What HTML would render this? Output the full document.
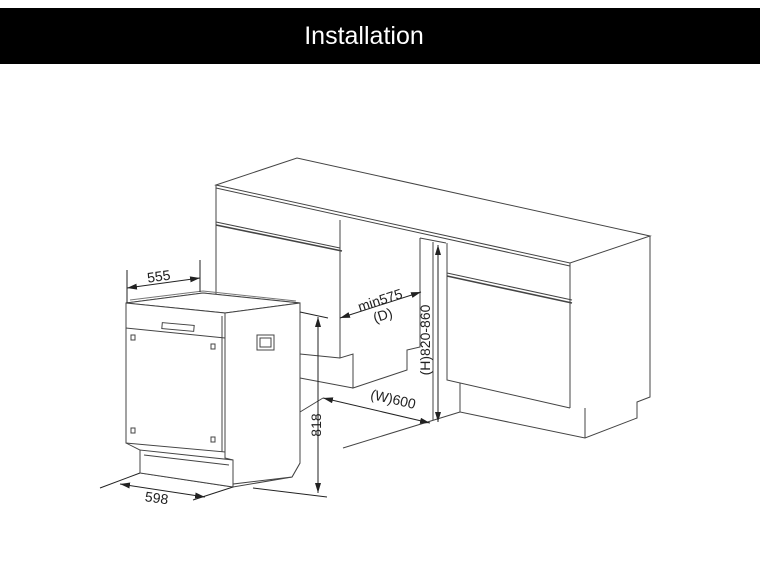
<!DOCTYPE html>
<html><head><meta charset="utf-8"><style>
html,body{margin:0;padding:0;background:#fff;width:760px;height:570px;overflow:hidden}
.bar{position:absolute;left:0;top:8px;width:760px;height:56px;background:#000;color:#fff;font-family:"Liberation Sans",sans-serif;font-size:25px;text-align:center;line-height:56px;text-indent:-32px}
svg{position:absolute;left:0;top:0}
text{font-family:"Liberation Sans",sans-serif;font-size:14px;fill:#222}
</style></head><body>
<div class="bar">Installation</div>
<svg width="760" height="570" viewBox="0 0 760 570">
<defs><marker id="a" viewBox="0 0 10 6" refX="10" refY="3" markerWidth="10" markerHeight="6" orient="auto-start-reverse"><path d="M0,0L10,3L0,6z" fill="#222"/></marker></defs>
<g fill="none" stroke="#444" stroke-width="1">
<!-- cabinet top -->
<path d="M216,185 L297,158 L650,236 L570,263 Z"/>
<path d="M216,188 L570,266"/>
<path d="M216,185 V222"/>
<path d="M570,263 V408"/>
<path d="M650,236 V397 L637,402 V418 L585,438 L460,412 V383"/>
<path d="M585,408 V438"/>
<!-- left cabinet -->
<path d="M216,222 L340,248"/>
<path d="M216,225 L342,251" stroke-width="1.6"/>
<path d="M216,222 V300"/>
<path d="M340,220 V358 L353,354 V388 L407,370 V350 L420,347 V238"/>
<path d="M300,354 L340,358"/>
<path d="M300,378 L353,388"/>
<path d="M420,238 L446,243"/>
<path d="M433,242 L433,420"/>
<!-- right cabinet -->
<path d="M447,243 V380 L570,408"/>
<path d="M447,273 L572,300"/>
<path d="M447,276 L572,303" stroke-width="1.6"/>
<path d="M460,383 V412"/>
<path d="M460,412 L343,448"/>
<path d="M300,412 L323,398"/>
</g>
<!-- dishwasher -->
<g fill="#fff" stroke="#444" stroke-width="1">
<path d="M126,303 L203,293 L300,303 V463 L292,477 L233,487 L140,473 V450 L126,443 Z"/>
<path d="M126,303 L203,293 L300,303 L225,313 Z"/>
<path d="M126,303 V443 L225,452 V313 Z"/>
<path d="M225,313 L300,303 V463 L292,477 L233,484 V460 L225,458 Z"/>
<path d="M140,450 V473 L233,487 V460 Z"/>
<path d="M130,300 L203,291 L296,301" fill="none" stroke="#777"/>
<path d="M126,328 L225,338" fill="none"/>
<path d="M222,316 V452" fill="none"/>
<path d="M144,455 L229,465" fill="none"/>
<rect x="257" y="335" width="17" height="15"/>
<rect x="260" y="338" width="11" height="9"/>
<rect x="162" y="324" width="32" height="6" transform="rotate(5 178 327)"/>
<rect x="131" y="335" width="4" height="5"/><rect x="211" y="344" width="4" height="5"/>
<rect x="131" y="428" width="4" height="5"/><rect x="211" y="437" width="4" height="5"/>
</g>
<g fill="none" stroke="#222" stroke-width="1">
<!-- 555 -->
<path d="M127,270 V303 M200,260 V292"/>
<path d="M127,288 L200,278" marker-start="url(#a)" marker-end="url(#a)"/>
<!-- 598 -->
<path d="M100,488 L140,473 M193,500 L233,487"/>
<path d="M120,484 L205,497" marker-start="url(#a)" marker-end="url(#a)"/>
<!-- 818 -->
<path d="M300,312 L328,318 M253,488 L327,497"/>
<path d="M318,317 V493" marker-start="url(#a)" marker-end="url(#a)"/>
<!-- min575 -->
<path d="M340,318 L421,292" marker-start="url(#a)" marker-end="url(#a)"/>
<!-- W600 -->
<path d="M323,398 L430,423" marker-start="url(#a)" marker-end="url(#a)"/>
<!-- H -->
<path d="M438,245 V422" marker-start="url(#a)" marker-end="url(#a)"/>
</g>
<text x="147" y="281" transform="rotate(-8 160 276)">555</text>
<text x="145" y="503" transform="rotate(8 158 498)">598</text>
<text x="316" y="430" transform="rotate(-90 316 425)" text-anchor="middle">818</text>
<text x="380" y="305" transform="rotate(-18 380 300)" text-anchor="middle">min575</text>
<text x="383" y="320" transform="rotate(-18 383 316)" text-anchor="middle">(D)</text>
<text x="393" y="404" transform="rotate(13 393 400)" text-anchor="middle">(W)600</text>
<text x="430" y="340" transform="rotate(-90 430 340)" text-anchor="middle">(H)820-860</text>
</svg>
</body></html>
